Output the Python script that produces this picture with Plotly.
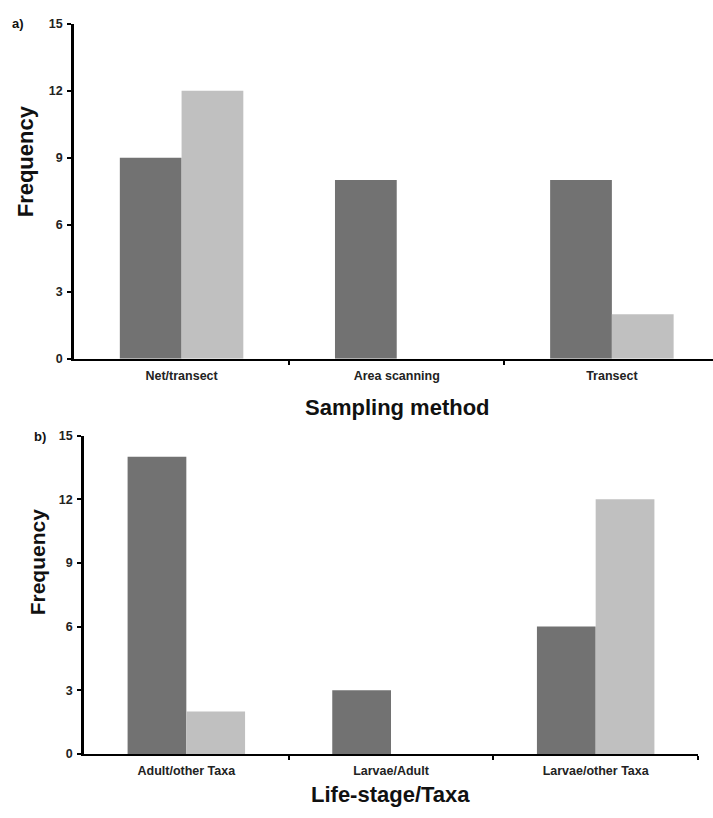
import plotly.graph_objects as go

# Panel a: sampling method
methods = ["Net/transect", "Area scanning", "Transect"]
methods_dark = [9, 8, 8]
methods_light = [12, 0, 2]

# Panel b: life-stage / taxa
stages = ["Adult/other Taxa", "Larvae/Adult", "Larvae/other Taxa"]
stages_dark = [14, 3, 6]
stages_light = [2, 0, 12]

y_ticks = [0, 3, 6, 9, 12, 15]

W, H = 713, 818
DARK = "#727272"
LIGHT = "#c0c0c0"
FONT = "Liberation Sans, Arial, sans-serif"

def px_x(v):
    return v / W

def px_y(v):
    return 1 - v / H

fig = go.Figure()

for cats, dark, light, xa, ya in [
    (methods, methods_dark, methods_light, "x", "y"),
    (stages, stages_dark, stages_light, "x2", "y2"),
]:
    idx = list(range(len(cats)))
    fig.add_trace(go.Bar(x=idx, y=dark, name="Series A", xaxis=xa, yaxis=ya,
                         marker=dict(color=DARK, line=dict(width=0)),
                         showlegend=False))
    fig.add_trace(go.Bar(x=idx, y=light, name="Series B", xaxis=xa, yaxis=ya,
                         marker=dict(color=LIGHT, line=dict(width=0)),
                         showlegend=False))

tick_font = dict(family=FONT, size=12.5, color="#222222", weight="bold")

def xaxis(domain, rng, labels, anchor):
    return dict(
        domain=domain, range=rng, anchor=anchor,
        tickmode="array", tickvals=[0, 1, 2], ticktext=labels,
        ticks="", showgrid=False, zeroline=False,
        showline=True, linecolor="black", linewidth=2,
        tickfont=tick_font, ticklabelstandoff=4,
        minor=dict(tickmode="array", tickvals=[0.5, 1.5, 2.5], ticks="outside",
                   ticklen=4, tickwidth=2, tickcolor="black", showgrid=False),
        fixedrange=True,
    )

def yaxis(domain, anchor):
    return dict(
        domain=domain, range=[0, 15], anchor=anchor,
        tickmode="array", tickvals=y_ticks,
        ticks="outside", ticklen=4, tickwidth=2, tickcolor="black",
        showgrid=False, zeroline=False,
        showline=True, linecolor="black", linewidth=2.5,
        tickfont=tick_font, ticklabelstandoff=2,
        fixedrange=True,
    )

fig.update_layout(
    width=W, height=H,
    margin=dict(l=0, r=0, t=0, b=0),
    paper_bgcolor="white", plot_bgcolor="white",
    barmode="group", bargap=0.426, bargroupgap=0,
    xaxis=xaxis([px_x(74), 1.0], [-0.5, 2.47], methods, "y"),
    yaxis=yaxis([px_y(358), px_y(17)], "x"),
    xaxis2=xaxis([px_x(84), px_x(698)], [-0.5, 2.5], stages, "y2"),
    yaxis2=yaxis([px_y(760), px_y(436)], "x2"),
)

label_font = dict(family=FONT, size=13, color="#111111", weight="bold")

def title_font(size):
    return dict(family=FONT, size=size, color="#111111", weight="bold")

annotations = [
    dict(text="a)", x=px_x(18), y=px_y(17), font=label_font),
    dict(text="b)", x=px_x(40), y=px_y(437), font=label_font),
    dict(text="Frequency", x=px_x(25), y=px_y(157), textangle=-90, font=title_font(22)),
    dict(text="Frequency", x=px_x(37), y=px_y(565), textangle=-90, font=title_font(21)),
    dict(text="Sampling method", x=px_x(397), y=px_y(407), font=title_font(22)),
    dict(text="Life-stage/Taxa", x=px_x(391), y=px_y(801), font=title_font(22)),
]
for a in annotations:
    a.update(xref="paper", yref="paper", showarrow=False, xanchor="center", yanchor="middle")
fig.update_layout(annotations=annotations)

fig.write_html("out.html")
